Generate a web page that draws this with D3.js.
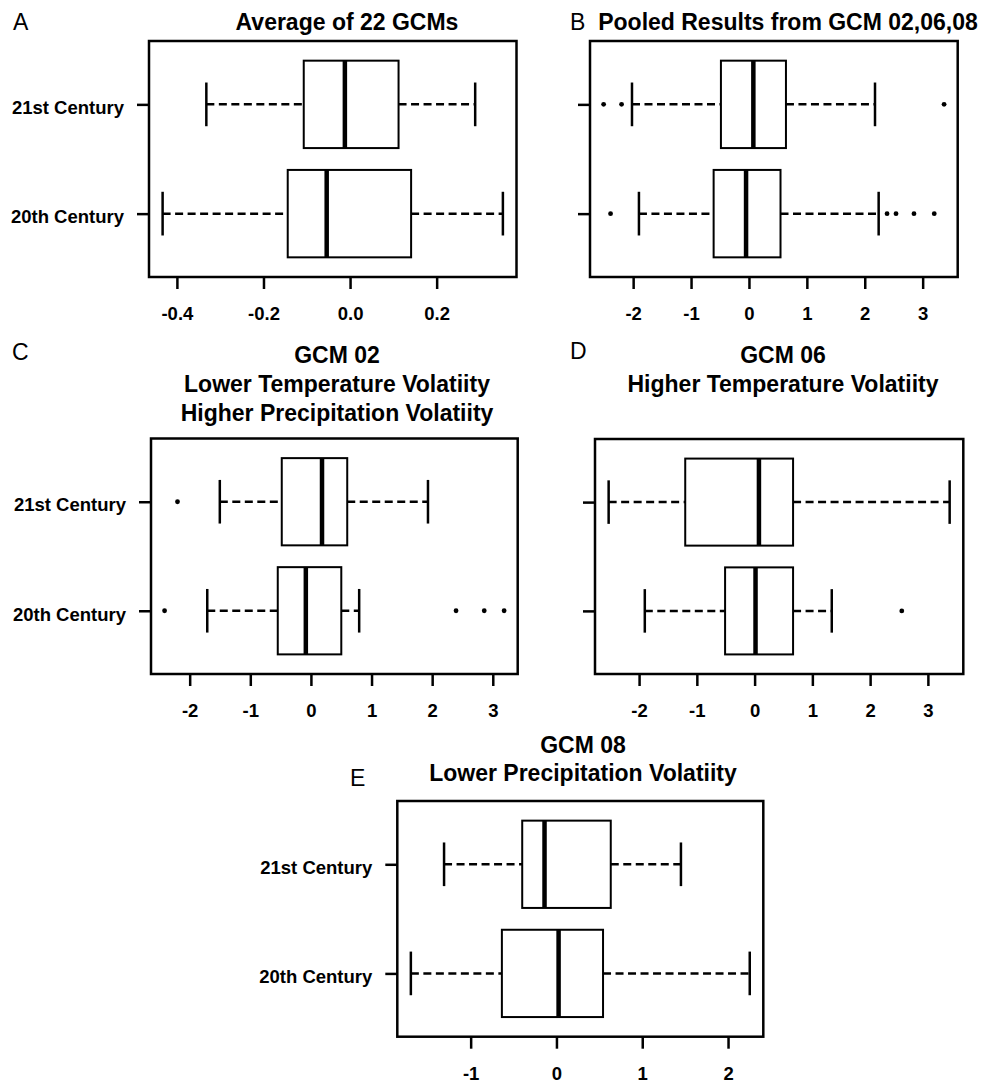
<!DOCTYPE html>
<html>
<head>
<meta charset="utf-8">
<script src="https://cdn.jsdelivr.net/npm/d3@7"></script>
<style>
  body { margin: 0; background: #fff; }
  svg { display: block; font-family: "Liberation Sans", Arial, sans-serif; }
</style>
</head>
<body>
<script>
// group names (bottom to top)
var categories = ["20th Century", "21st Century"];

// five number summaries: [lower whisker, Q1, median, Q3, upper whisker]
var statsA20 = [-0.433, -0.144, -0.054, 0.141, 0.353];
var statsA21 = [-0.332, -0.107, -0.012, 0.112, 0.289];
var outA20 = [];
var outA21 = [];

var statsB20 = [-1.90, -0.61, -0.05, 0.545, 2.24];
var statsB21 = [-2.02, -0.484, 0.076, 0.639, 2.177];
var outB20 = [-2.39, 2.385, 2.54, 2.85, 3.20];
var outB21 = [-2.51, -2.20, 3.37];

var statsC20 = [-1.71, -0.547, -0.084, 0.501, 0.796];
var statsC21 = [-1.503, -0.481, 0.183, 0.599, 1.931];
var outC20 = [-2.414, 2.394, 2.859, 3.187];
var outC21 = [-2.201];

var statsD20 = [-1.901, -0.511, 0.016, 0.666, 1.336];
var statsD21 = [-2.527, -1.201, 0.075, 0.666, 3.377];
var outD20 = [2.548];
var outD21 = [];

var statsE20 = [-1.697, -0.636, 0.025, 0.543, 2.253];
var statsE21 = [-1.31, -0.399, -0.139, 0.633, 1.451];
var outE20 = [];
var outE21 = [];

// tick labels
var ticksA = [-0.4, -0.2, 0.0, 0.2];
var ticksBCD = [-2, -1, 0, 1, 2, 3];
var ticksE = [-1, 0, 1, 2];

// titles
var titleA = ["Average of 22 GCMs"];
var titleB = ["Pooled Results from GCM 02,06,08"];
var titleC = ["GCM 02", "Lower Temperature Volatiity", "Higher Precipitation Volatiity"];
var titleD = ["GCM 06", "Higher Temperature Volatiity"];
var titleE = ["GCM 08", "Lower Precipitation Volatiity"];

var svg = d3.select("body").append("svg")
    .attr("width", 982)
    .attr("height", 1084);

// panel layout
var panels = [
  {letter: "A", stats: [statsA20, statsA21], outs: [outA20, outA21], ticks: ticksA, fmt: d => d.toFixed(1),
   title: titleA, x0: 149, x1: 516.5, y0: 41, y1: 277, labels: true, lx: 13, ly: 29.5, tx: 347, ty: [29.5]},
  {letter: "B", stats: [statsB20, statsB21], outs: [outB20, outB21], ticks: ticksBCD, fmt: d => String(d),
   title: titleB, x0: 590, x1: 957.7, y0: 41, y1: 277, labels: false, lx: 570, ly: 29.5, tx: 788, ty: [29.5]},
  {letter: "C", stats: [statsC20, statsC21], outs: [outC20, outC21], ticks: ticksBCD, fmt: d => String(d),
   title: titleC, x0: 151, x1: 517.7, y0: 438.5, y1: 674, labels: true, lx: 12, ly: 359.5, tx: 337, ty: [363, 391.5, 420.5]},
  {letter: "D", stats: [statsD20, statsD21], outs: [outD20, outD21], ticks: ticksBCD, fmt: d => String(d),
   title: titleD, x0: 595, x1: 963.3, y0: 439, y1: 674, labels: false, lx: 570, ly: 359, tx: 783, ty: [363, 391.5]},
  {letter: "E", stats: [statsE20, statsE21], outs: [outE20, outE21], ticks: ticksE, fmt: d => String(d),
   title: titleE, x0: 397.3, x1: 763.3, y0: 801, y1: 1036.7, labels: true, lx: 350, ly: 786, tx: 583, ty: [752.5, 781]}
];

panels.forEach(drawPanel);

function drawPanel(p) {
  var g = svg.append("g");

  // R style range: data extent padded by 4%
  var all = [];
  p.stats.forEach(s => all.push(s[0], s[4]));
  p.outs.forEach(o => all.push(...o));
  var lo = d3.min(all), hi = d3.max(all), pad = (hi - lo) * 0.04;

  var x = d3.scaleLinear().domain([lo - pad, hi + pad]).range([p.x0, p.x1]);
  var y = d3.scaleLinear().domain([0.42, 2.58]).range([p.y1, p.y0]);

  // bottom axis
  var xa = g.append("g")
      .attr("transform", `translate(0,${p.y1})`)
      .call(d3.axisBottom(x).tickValues(p.ticks).tickSize(12).tickPadding(18).tickFormat(p.fmt));
  xa.select(".domain").remove();
  xa.selectAll("line").attr("stroke", "#000").attr("stroke-width", 2.5);
  xa.selectAll("text")
      .attr("fill", "#000")
      .style("font-size", "18.5px")
      .style("font-weight", "bold")
      .style("font-family", "'Liberation Sans', Arial, sans-serif");

  // left axis
  var ya = g.append("g")
      .attr("transform", `translate(${p.x0},0)`)
      .call(d3.axisLeft(y).tickValues([1, 2]).tickSize(12).tickPadding(13)
        .tickFormat(d => p.labels ? categories[d - 1] : ""));
  ya.select(".domain").remove();
  ya.selectAll("line").attr("stroke", "#000").attr("stroke-width", 2.5);
  ya.selectAll("text")
      .attr("fill", "#000")
      .attr("dy", "0.5em")
      .style("font-size", "18.5px")
      .style("font-weight", "bold")
      .style("font-family", "'Liberation Sans', Arial, sans-serif");

  // boxes
  p.stats.forEach(function(s, i) {
    var pos = i + 1;
    var cy = y(pos);
    var b = g.append("g");

    b.selectAll("line.whisk")
      .data([[s[0], s[1]], [s[3], s[4]]])
      .enter().append("line")
      .attr("x1", d => x(d[0]))
      .attr("x2", d => x(d[1]))
      .attr("y1", cy).attr("y2", cy)
      .attr("stroke", "#000")
      .attr("stroke-width", 2.5)
      .attr("stroke-dasharray", "8,4.5");

    b.selectAll("line.staple")
      .data([s[0], s[4]])
      .enter().append("line")
      .attr("x1", d => x(d)).attr("x2", d => x(d))
      .attr("y1", y(pos + 0.2)).attr("y2", y(pos - 0.2))
      .attr("stroke", "#000")
      .attr("stroke-width", 2.5);

    b.append("rect")
      .attr("x", x(s[1]))
      .attr("width", x(s[3]) - x(s[1]))
      .attr("y", y(pos + 0.4))
      .attr("height", y(pos - 0.4) - y(pos + 0.4))
      .attr("fill", "#fff")
      .attr("stroke", "#000")
      .attr("stroke-width", 2);

    b.append("line")
      .attr("x1", x(s[2])).attr("x2", x(s[2]))
      .attr("y1", y(pos + 0.4)).attr("y2", y(pos - 0.4))
      .attr("stroke", "#000")
      .attr("stroke-width", 4.5);

    b.selectAll("circle")
      .data(p.outs[i])
      .enter().append("circle")
      .attr("cx", d => x(d))
      .attr("cy", cy)
      .attr("r", 2.4)
      .attr("fill", "#000");
  });

  // frame
  g.append("rect")
    .attr("x", p.x0).attr("y", p.y0)
    .attr("width", p.x1 - p.x0).attr("height", p.y1 - p.y0)
    .attr("fill", "none")
    .attr("stroke", "#000")
    .attr("stroke-width", 2.5);

  // panel letter
  g.append("text")
    .attr("x", p.lx).attr("y", p.ly)
    .style("font-size", "23px")
    .text(p.letter);

  // title lines
  g.selectAll("text.title")
    .data(p.title)
    .enter().append("text")
    .attr("class", "title")
    .attr("x", p.tx)
    .attr("y", (d, k) => p.ty[k])
    .attr("text-anchor", "middle")
    .style("font-size", "23px")
    .style("font-weight", "bold")
    .text(d => d);
}
</script>
</body>
</html>
